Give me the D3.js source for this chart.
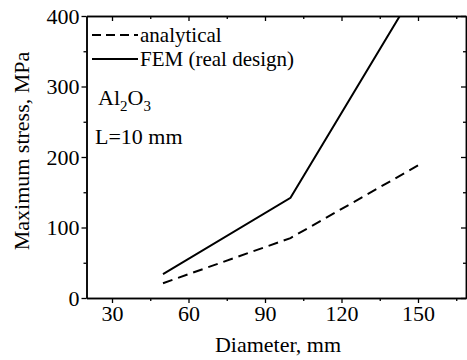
<!DOCTYPE html>
<meta charset="utf-8">
<script src="https://d3js.org/d3.v7.min.js"></script>
<style>
  body { margin: 0; background: #fff; }
  svg text { font-family: "Liberation Serif", "Times New Roman", serif !important; fill: #000; }
</style>
<div id="my_dataviz"></div>
<script>

  // data
  var diameters = [50, 100, 150];
  var analytical = [21, 85, 188];
  var fem = [34, 142, 443];   // last point runs past the top of the frame
  var xTicks = [30, 60, 90, 120, 150];
  var xMinor = [45, 75, 105, 135, 165];
  var yTicks = [0, 100, 200, 300, 400];
  var yMinor = [50, 150, 250, 350];

  var W = 467, H = 360;
  var margin = {top: 16, right: 1, bottom: 62, left: 86.5},
      width = W - margin.left - margin.right,
      height = H - margin.top - margin.bottom;
  var fs = 22;

  var svg = d3.select("#my_dataviz")
    .append("svg")
      .attr("width", W)
      .attr("height", H);

  var g = svg.append("g")
      .attr("transform", "translate(" + margin.left + "," + margin.top + ")");

  var x = d3.scaleLinear()
    .domain([20, 20 + width / 2.55])
    .range([0, width]);

  var y = d3.scaleLinear()
    .domain([0, 400])
    .range([height, 0]);

  // clip the curves to the frame
  g.append("clipPath").attr("id", "clip")
    .append("rect").attr("width", width).attr("height", height);

  var line = d3.line()
    .x(function(d) { return x(d[0]); })
    .y(function(d) { return y(d[1]); });

  g.append("path")
    .datum(diameters.map(function(d, i) { return [d, analytical[i]]; }))
    .attr("clip-path", "url(#clip)")
    .attr("fill", "none")
    .attr("stroke", "#000")
    .attr("stroke-width", 2)
    .attr("stroke-dasharray", "10,6")
    .attr("d", line);

  g.append("path")
    .datum(diameters.map(function(d, i) { return [d, fem[i]]; }))
    .attr("clip-path", "url(#clip)")
    .attr("fill", "none")
    .attr("stroke", "#000")
    .attr("stroke-width", 2)
    .attr("d", line);

  // axes: major + minor ticks, outward on bottom/left, inward on top/right
  function styleAxis(sel) {
    sel.attr("font-family", null);
    sel.selectAll("path, line").attr("stroke", "#000").attr("stroke-width", 1.3);
    sel.select(".domain").attr("stroke-width", 1.5);
  }

  var bottom = g.append("g")
    .attr("transform", "translate(0," + height + ")")
    .call(d3.axisBottom(x).tickValues(xTicks).tickSize(5).tickSizeOuter(0).tickPadding(2))
    .call(styleAxis);
  bottom.selectAll("text").style("font-size", fs + "px");
  g.append("g")
    .attr("transform", "translate(0," + height + ")")
    .call(d3.axisBottom(x).tickValues(xMinor).tickSize(3).tickSizeOuter(0).tickFormat(""))
    .call(styleAxis);

  var left = g.append("g")
    .call(d3.axisLeft(y).tickValues(yTicks).tickSize(5).tickSizeOuter(0).tickPadding(2))
    .call(styleAxis);
  left.selectAll("text").style("font-size", fs + "px");
  g.append("g")
    .call(d3.axisLeft(y).tickValues(yMinor).tickSize(3).tickSizeOuter(0).tickFormat(""))
    .call(styleAxis);

  g.append("g")
    .call(d3.axisTop(x).tickValues(xTicks).tickSize(-5).tickSizeOuter(0).tickFormat(""))
    .call(styleAxis);
  g.append("g")
    .call(d3.axisTop(x).tickValues(xMinor).tickSize(-3).tickSizeOuter(0).tickFormat(""))
    .call(styleAxis);

  g.append("g")
    .attr("transform", "translate(" + width + ",0)")
    .call(d3.axisRight(y).tickValues(yTicks).tickSize(-5).tickSizeOuter(0).tickFormat(""))
    .call(styleAxis);
  g.append("g")
    .attr("transform", "translate(" + width + ",0)")
    .call(d3.axisRight(y).tickValues(yMinor).tickSize(-3).tickSizeOuter(0).tickFormat(""))
    .call(styleAxis);

  // axis titles
  svg.append("text")
    .attr("x", 278)
    .attr("y", 352)
    .attr("text-anchor", "middle")
    .style("font-size", fs + "px")
    .text("Diameter, mm");

  svg.append("text")
    .attr("transform", "translate(29," + 151 + ") rotate(-90)")
    .attr("text-anchor", "middle")
    .style("font-size", fs + "px")
    .text("Maximum stress, MPa");

  // legend
  var legendData = [
    {name: "analytical", dash: "9,5"},
    {name: "FEM (real design)", dash: null}
  ];
  var legend = svg.append("g").attr("transform", "translate(92,35)");
  legend.selectAll("line")
    .data(legendData)
    .enter()
    .append("line")
      .attr("x1", 0).attr("x2", 46)
      .attr("y1", function(d, i) { return i * 24; })
      .attr("y2", function(d, i) { return i * 24; })
      .attr("stroke", "#000")
      .attr("stroke-width", 2)
      .attr("stroke-dasharray", function(d) { return d.dash; });
  legend.selectAll("text")
    .data(legendData)
    .enter()
    .append("text")
      .attr("x", 48)
      .attr("y", function(d, i) { return i * 24 + 7; })
      .style("font-size", "21px")
      .text(function(d) { return d.name; });

  // annotations
  var al = svg.append("text").attr("x", 98).attr("y", 105).style("font-size", fs + "px");
  al.append("tspan").text("Al");
  al.append("tspan").attr("dy", 6).style("font-size", "15px").text("2");
  al.append("tspan").attr("dy", -6).text("O");
  al.append("tspan").attr("dy", 6).style("font-size", "15px").text("3");

  svg.append("text")
    .attr("x", 95).attr("y", 144)
    .style("font-size", fs + "px")
    .text("L=10 mm");

</script>
